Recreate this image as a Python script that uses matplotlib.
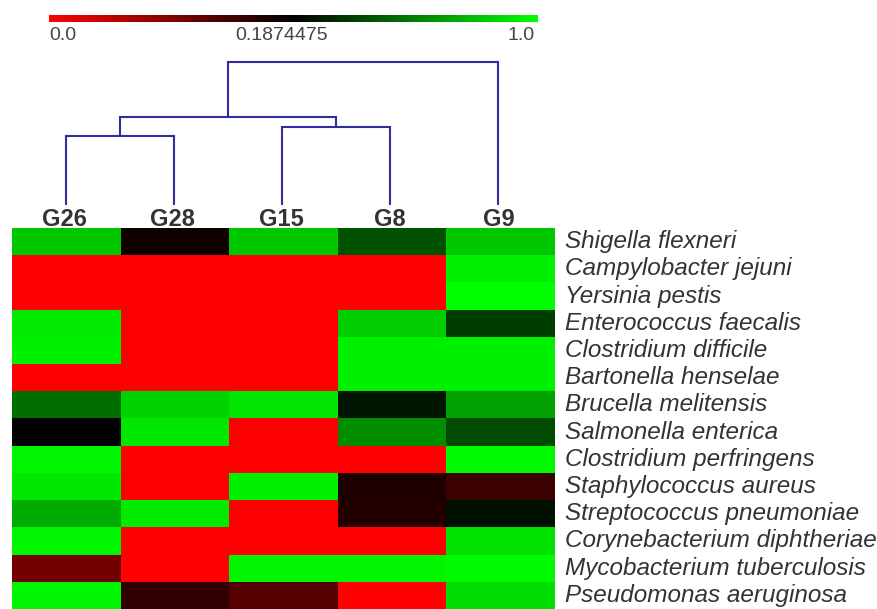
import numpy as np
import matplotlib.pyplot as plt
from matplotlib.colors import LinearSegmentedColormap, TwoSlopeNorm

plt.rcParams['font.family'] = ['Liberation Sans', 'DejaVu Sans']

samples = ["G26", "G28", "G15", "G8", "G9"]
species = ["Shigella flexneri", "Campylobacter jejuni", "Yersinia pestis",
           "Enterococcus faecalis", "Clostridium difficile", "Bartonella henselae",
           "Brucella melitensis", "Salmonella enterica", "Clostridium perfringens",
           "Staphylococcus aureus", "Streptococcus pneumoniae",
           "Corynebacterium diphtheriae", "Mycobacterium tuberculosis",
           "Pseudomonas aeruginosa"]

# one row per species, columns in sample order
values = np.array([
    [0.825, 0.176, 0.825, 0.442, 0.825],
    [0.000, 0.000, 0.000, 0.000, 0.952],
    [0.000, 0.000, 0.000, 0.000, 1.000],
    [0.936, 0.000, 0.000, 0.841, 0.379],
    [0.952, 0.000, 0.000, 0.952, 0.952],
    [0.000, 0.000, 0.000, 0.952, 0.952],
    [0.538, 0.857, 0.914, 0.251, 0.697],
    [0.187, 0.920, 0.000, 0.634, 0.426],
    [0.968, 0.000, 0.000, 0.000, 0.984],
    [0.920, 0.000, 0.952, 0.165, 0.143],
    [0.729, 0.936, 0.000, 0.162, 0.235],
    [0.968, 0.000, 0.000, 0.000, 0.904],
    [0.103, 0.000, 0.968, 0.968, 0.984],
    [0.968, 0.151, 0.125, 0.000, 0.888],
])

vmin, vmid, vmax = 0.0, 0.1874475, 1.0

# dendrogram merges: (left node, right node, height); leaves are 0..4, new nodes 5..8
merges = [(0, 1, 0.69), (2, 3, 0.77), (5, 6, 0.87), (7, 4, 1.42)]

W, H = 877, 609
fig = plt.figure(figsize=(W / 100, H / 100), dpi=100)


def px_axes(x0, y0, x1, y1):
    return fig.add_axes([x0 / W, 1 - y1 / H, (x1 - x0) / W, (y1 - y0) / H])


cmap = LinearSegmentedColormap.from_list("rbg", ["#ff0000", "#000000", "#00ff00"])
norm = TwoSlopeNorm(vmin=vmin, vcenter=vmid, vmax=vmax)

# heatmap
ax = px_axes(12, 228, 555, 609)
ax.imshow(values, cmap=cmap, norm=norm, aspect="auto", interpolation="nearest")
ax.set_xticks([])
ax.set_yticks([])
for s in ax.spines.values():
    s.set_visible(False)
for i, name in enumerate(species):
    ax.text(1.018, 1 - (i + 0.5) / len(species), name, transform=ax.transAxes,
            fontsize=17.5, style="italic", color="#333333", ha="left", va="center")

# dendrogram
dax = px_axes(12.5, 60, 552, 205)
pos = {i: i + 0.5 for i in range(len(samples))}
hgt = {i: 0.0 for i in range(len(samples))}
for k, (a, b, h) in enumerate(merges):
    xa, xb = pos[a], pos[b]
    dax.plot([xa, xa, xb, xb], [hgt[a], h, h, hgt[b]], color="#2e2e9e", lw=1.5,
             solid_joinstyle="miter")
    node = len(samples) + k
    pos[node] = (xa + xb) / 2
    hgt[node] = h
dax.set_xlim(0, len(samples))
dax.set_ylim(0, 1.44)
dax.axis("off")
for i, s in enumerate(samples):
    fig.text((12 + (i + 0.5) * 543 / 5 - 2) / W, 1 - 219 / H, s, fontsize=17,
             fontweight="bold", color="#333333", ha="center", va="center")

# colour bar
cax = px_axes(49, 15, 538, 22)
cax.imshow(np.linspace(0, 1, 256)[None, :], cmap=cmap, aspect="auto",
           extent=(0, 1, 0, 1))
cax.axis("off")
base = 1 - 40 / H
fig.text(49 / W, base, f"{vmin:.1f}", fontsize=14, color="#444444",
         ha="left", va="baseline")
fig.text(282 / W, base, f"{vmid}", fontsize=14, color="#444444",
         ha="center", va="baseline")
fig.text(535 / W, base, f"{vmax:.1f}", fontsize=14, color="#444444",
         ha="right", va="baseline")

fig.savefig("out.png", dpi=100)
